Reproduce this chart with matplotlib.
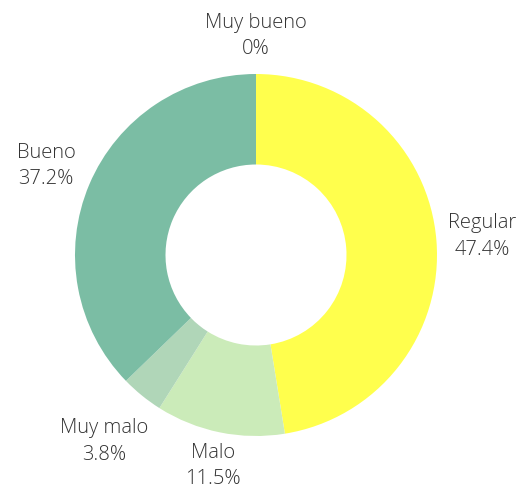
import matplotlib
matplotlib.use("Agg")
import matplotlib.pyplot as plt
import numpy as np

categories = ["Muy bueno", "Regular", "Malo", "Muy malo", "Bueno"]
values = [0.0, 47.4, 11.5, 3.8, 37.2]
labels_pct = ["0%", "47.4%", "11.5%", "3.8%", "37.2%"]
colors = ["#7BBDA4", "#FFFF4D", "#CBEBB9", "#B0D6B8", "#7BBDA4"]
label_dist = [1.21, 1.255, 1.19, 1.33, 1.26]

plt.rcParams['font.family'] = ['Open Sans', 'DejaVu Sans']

W, H = 527, 491
fig = plt.figure(figsize=(W / 100, H / 100), dpi=100)
cx, cy, r = 256, 255, 181
ax = fig.add_axes([(cx - r) / W, (H - cy - r) / H, 2 * r / W, 2 * r / H])

wedges, _ = ax.pie(values, colors=colors, startangle=90, counterclock=False,
                   radius=1, wedgeprops=dict(width=0.5, linewidth=0))
ax.set_xlim(-1, 1)
ax.set_ylim(-1, 1)
ax.axis("off")

total = sum(values)
cum = 0.0
for name, v, pct, d in zip(categories, values, labels_pct, label_dist):
    mid = 90 - (cum + v / 2) / total * 360
    cum += v
    a = np.deg2rad(mid)
    ax.text(d * np.cos(a), d * np.sin(a), f"{name}\n{pct}", ha="center", va="center",
            fontsize=14.5, fontweight="light", color="#333333", linespacing=1.45,
            clip_on=False)

fig.savefig("out.png", dpi=100)
